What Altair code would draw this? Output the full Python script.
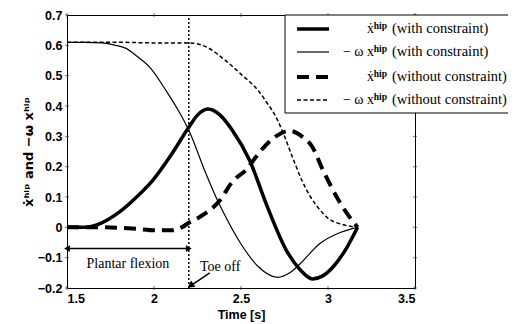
import altair as alt
import pandas as pd

# ---- data ----
t_vel_c = [1.5, 1.6, 1.7, 1.8, 1.9, 2.0, 2.1, 2.2, 2.25, 2.31, 2.38, 2.45, 2.55, 2.65, 2.76, 2.84, 2.91, 2.97, 3.03, 3.11, 3.17]
v_vel_c = [0.0, 0.0, 0.015, 0.05, 0.1, 0.16, 0.24, 0.33, 0.37, 0.39, 0.37, 0.32, 0.22, 0.07, -0.075, -0.14, -0.17, -0.16, -0.13, -0.065, 0.0]

t_pos_c = [1.5, 1.6, 1.7, 1.78, 1.84, 1.9, 1.98, 2.07, 2.14, 2.2, 2.3, 2.36, 2.4, 2.5, 2.6, 2.71, 2.78, 2.84, 2.95, 3.07, 3.17]
v_pos_c = [0.61, 0.61, 0.608, 0.6, 0.59, 0.565, 0.525, 0.45, 0.385, 0.32, 0.175, 0.095, 0.048, -0.055, -0.13, -0.165, -0.15, -0.12, -0.055, -0.017, 0.0]

t_vel_n = [1.5, 1.7, 1.9, 2.0, 2.1, 2.16, 2.2, 2.26, 2.38, 2.45, 2.53, 2.61, 2.7, 2.78, 2.85, 2.91, 2.97, 3.05, 3.11, 3.17]
v_vel_n = [0.0, 0.0, -0.005, -0.01, -0.01, 0.0, 0.015, 0.033, 0.09, 0.15, 0.19, 0.25, 0.3, 0.318, 0.3, 0.265, 0.19, 0.1, 0.045, 0.0]

t_pos_n = [1.5, 1.8, 2.0, 2.2, 2.3, 2.4, 2.5, 2.6, 2.65, 2.7, 2.75, 2.8, 2.85, 2.9, 2.95, 3.0, 3.08, 3.17]
v_pos_n = [0.61, 0.61, 0.608, 0.608, 0.595, 0.555, 0.505, 0.45, 0.41, 0.365, 0.3, 0.225, 0.155, 0.1, 0.06, 0.03, 0.01, 0.0]

legend_main = ["ẋ", "− ω x", "ẋ", "− ω x"]
legend_sup = ["hip", "hip", "hip", "hip"]
legend_suffix = ["(with constraint)", "(with constraint)", "(without constraint)", "(without constraint)"]

y_ticks = [-0.2, -0.1, 0.0, 0.1, 0.2, 0.3, 0.4, 0.5, 0.6, 0.7]
x_ticks = [1.5, 2.0, 2.5, 3.0, 3.5]

toe_off_t = 2.2
plantar_arrow_v = -0.07

# ---- style per series (widths, dashes) ----
styles = [
    dict(strokeWidth=3.5),
    dict(strokeWidth=1.2),
    dict(strokeWidth=4, strokeDash=[12, 7]),
    dict(strokeWidth=1.5, strokeDash=[4, 2.5]),
]
series = [(t_vel_c, v_vel_c), (t_pos_c, v_pos_c), (t_vel_n, v_vel_n), (t_pos_n, v_pos_n)]

W, H = 348, 273
xs = alt.Scale(domain=[1.5, 3.5], nice=False, zero=False)
ys = alt.Scale(domain=[-0.2, 0.7], nice=False, zero=False)

x_axis = alt.Axis(values=x_ticks, labelExpr="format(datum.value, '~g')", title="Time [s]",
                  ticks=False, grid=False, domain=False, labelFont="Liberation Sans",
                  labelFontWeight="bold", labelFontSize=12.5, labelColor="black", labelPadding=4,
                  titleFont="Liberation Sans", titleFontWeight="bold", titleFontSize=12.5,
                  titleColor="black", titlePadding=4)
y_axis = alt.Axis(values=y_ticks, labelExpr="datum.value == 0 ? '0' : format(datum.value, '.1f')",
                  title="ẋʰⁱᵖ and −ω xʰⁱᵖ", ticks=False, grid=False, domain=False,
                  labelFont="Liberation Sans", labelFontWeight="bold", labelFontSize=12.5,
                  labelColor="black", labelPadding=5, titleFont="DejaVu Sans",
                  titleFontWeight="bold", titleFontSize=13, titleColor="black", titlePadding=2)


def X(f):
    return alt.X(f, scale=xs, axis=x_axis)


def Y(f):
    return alt.Y(f, scale=ys, axis=y_axis)


layers = []

# small inward ticks on all four sides
yt = pd.DataFrame({"v": y_ticks * 2, "t": [1.5] * len(y_ticks) + [3.5] * len(y_ticks),
                   "o": [2] * len(y_ticks) + [-2] * len(y_ticks)})
layers.append(alt.Chart(yt).mark_tick(orient="horizontal", size=4, thickness=1, color="#333").encode(
    x=X("t:Q"), y=Y("v:Q"), xOffset=alt.XOffset("o:Q", scale=None)))
xt = pd.DataFrame({"t": x_ticks * 2, "v": [-0.2] * len(x_ticks) + [0.7] * len(x_ticks),
                   "o": [-2] * len(x_ticks) + [2] * len(x_ticks)})
layers.append(alt.Chart(xt).mark_tick(orient="vertical", size=4, thickness=1, color="#333").encode(
    x=X("t:Q"), y=Y("v:Q"), yOffset=alt.YOffset("o:Q", scale=None)))

for (ts, vs), st in zip(series, styles):
    df = pd.DataFrame({"t": ts, "v": vs})
    layers.append(alt.Chart(df).mark_line(color="black", interpolate="monotone", **st).encode(
        x=X("t:Q"), y=Y("v:Q")))

# toe-off dotted line
vline = pd.DataFrame({"t": [toe_off_t], "v0": [-0.2], "v1": [0.7]})
layers.append(alt.Chart(vline).mark_rule(color="black", strokeWidth=1.5, strokeDash=[2, 2]).encode(
    x=X("t:Q"), y=Y("v0:Q"), y2="v1:Q"))

# plantar flexion double arrow
pa = pd.DataFrame({"t0": [1.5], "t1": [toe_off_t], "v": [plantar_arrow_v]})
layers.append(alt.Chart(pa).mark_rule(color="black", strokeWidth=1.5).encode(
    x=X("t0:Q"), x2="t1:Q", y=Y("v:Q")))
heads = pd.DataFrame({"t": [1.5, toe_off_t], "v": [plantar_arrow_v] * 2, "s": ["triangle-left", "triangle-right"],
                      "o": [4, -4]})
layers.append(alt.Chart(heads).mark_point(filled=True, color="black", size=45, opacity=1).encode(
    x=X("t:Q"), y=Y("v:Q"), shape=alt.Shape("s:N", scale=None, legend=None),
    xOffset=alt.XOffset("o:Q", scale=None)))

# toe off arrow
ta = pd.DataFrame({"t0": [2.32], "v0": [-0.15], "t1": [2.2], "v1": [-0.197]})
layers.append(alt.Chart(ta).mark_rule(color="black", strokeWidth=1.5).encode(
    x=X("t0:Q"), y=Y("v0:Q"), x2="t1:Q", y2="v1:Q"))
th = pd.DataFrame({"t": [2.21], "v": [-0.192]})
layers.append(alt.Chart(th).mark_point(shape="triangle-up", filled=True, color="black", size=60, angle=236,
                                       opacity=1).encode(x=X("t:Q"), y=Y("v:Q")))

# annotations
ann = pd.DataFrame({"t": [1.85, 2.38], "v": [-0.12, -0.13], "txt": ["Plantar flexion", "Toe off"]})
layers.append(alt.Chart(ann).mark_text(font="Liberation Serif", fontSize=14, color="black").encode(
    x=X("t:Q"), y=Y("v:Q"), text="txt:N"))

# legend (drawn manually, box partly outside plot as in reference)
one = alt.Data(values=[{"a": 1}])
layers.append(alt.Chart(one).mark_rect(fill="white", stroke="black", strokeWidth=1).encode(
    x=alt.value(218), x2=alt.value(444), y=alt.value(0), y2=alt.value(98)))
row_y = [14, 37, 62, 85]
for i, st in enumerate(styles):
    layers.append(alt.Chart(one).mark_rule(color="black", **st).encode(
        x=alt.value(230), x2=alt.value(262), y=alt.value(row_y[i])))
    layers.append(alt.Chart(one).mark_text(font="Liberation Serif", fontSize=9.5, fontWeight="bold",
                                           color="black", align="right", baseline="middle").encode(
        x=alt.value(320), y=alt.value(row_y[i] - 3), text=alt.value(legend_sup[i])))
    layers.append(alt.Chart(one).mark_text(font="Liberation Serif", fontSize=14, color="black",
                                           align="right", baseline="middle").encode(
        x=alt.value(307), y=alt.value(row_y[i]), text=alt.value(legend_main[i])))
    layers.append(alt.Chart(one).mark_text(font="Liberation Serif", fontSize=14.5, color="black",
                                           align="left", baseline="middle").encode(
        x=alt.value(325), y=alt.value(row_y[i]), text=alt.value(legend_suffix[i])))

chart = alt.layer(*layers).properties(
    width=W, height=H,
    background="white",
    autosize=alt.AutoSizeParams(type="none"),
    padding={"left": 59, "top": 7, "right": 93, "bottom": 36},
).configure_view(stroke="black", strokeWidth=1)

chart.save("out.html", embed_options={"renderer": "svg", "actions": False})
